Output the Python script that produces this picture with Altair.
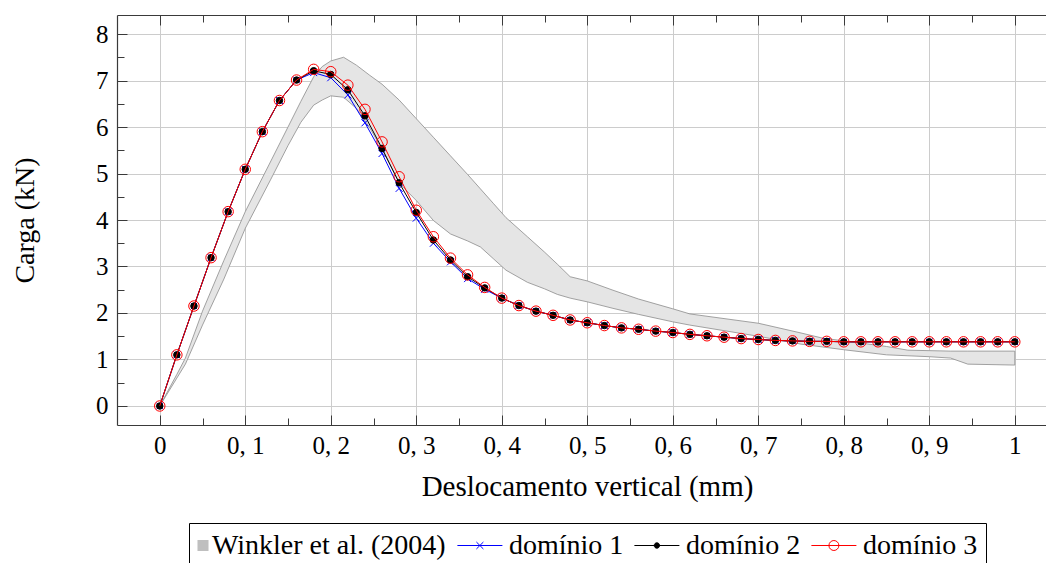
import altair as alt
import pandas as pd

# ---------------- data ----------------
desloc = [0.00, 0.02, 0.04, 0.06, 0.08, 0.10, 0.12, 0.14, 0.16, 0.18,
          0.20, 0.22, 0.24, 0.26, 0.28, 0.30, 0.32, 0.34, 0.36, 0.38,
          0.40, 0.42, 0.44, 0.46, 0.48, 0.50, 0.52, 0.54, 0.56, 0.58,
          0.60, 0.62, 0.64, 0.66, 0.68, 0.70, 0.72, 0.74, 0.76, 0.78,
          0.80, 0.82, 0.84, 0.86, 0.88, 0.90, 0.92, 0.94, 0.96, 0.98, 1.00]

dominio1 = [0.00, 1.10, 2.15, 3.19, 4.18, 5.09, 5.90, 6.57, 7.01, 7.17,
            7.06, 6.69, 6.09, 5.43, 4.68, 4.04, 3.50, 3.10, 2.74, 2.51,
            2.32, 2.16, 2.04, 1.95, 1.85, 1.79, 1.73, 1.68, 1.65, 1.61,
            1.58, 1.54, 1.51, 1.48, 1.45, 1.43, 1.41, 1.40, 1.39, 1.39,
            1.38, 1.38, 1.38, 1.38, 1.38, 1.38, 1.38, 1.38, 1.38, 1.38, 1.38]

dominio2 = [0.00, 1.10, 2.15, 3.19, 4.18, 5.09, 5.90, 6.57, 7.01, 7.21,
            7.13, 6.80, 6.24, 5.54, 4.80, 4.16, 3.57, 3.14, 2.78, 2.54,
            2.32, 2.16, 2.04, 1.95, 1.85, 1.79, 1.73, 1.68, 1.65, 1.61,
            1.58, 1.54, 1.51, 1.48, 1.45, 1.43, 1.41, 1.40, 1.39, 1.39,
            1.38, 1.38, 1.38, 1.38, 1.38, 1.38, 1.38, 1.38, 1.38, 1.38, 1.38]

dominio3 = [0.00, 1.10, 2.15, 3.19, 4.18, 5.09, 5.90, 6.57, 7.01, 7.24,
            7.19, 6.90, 6.38, 5.68, 4.93, 4.21, 3.64, 3.18, 2.82, 2.55,
            2.32, 2.16, 2.04, 1.95, 1.85, 1.79, 1.73, 1.68, 1.65, 1.61,
            1.58, 1.54, 1.51, 1.48, 1.45, 1.43, 1.41, 1.40, 1.39, 1.39,
            1.38, 1.38, 1.38, 1.38, 1.38, 1.38, 1.38, 1.38, 1.38, 1.38, 1.38]

# Winkler et al. (2004) experimental envelope
winkler_x = [0.0, 0.02, 0.03, 0.05, 0.075, 0.10, 0.13, 0.15, 0.165, 0.18,
             0.19, 0.20, 0.215, 0.23, 0.245, 0.26, 0.28, 0.30, 0.32, 0.34,
             0.36, 0.375, 0.39, 0.405, 0.43, 0.45, 0.465, 0.48, 0.50, 0.53,
             0.56, 0.60, 0.62, 0.70, 0.75, 0.775, 0.80, 0.85, 0.875, 0.90,
             0.925, 0.945, 1.0]
winkler_sup = [0.0, 0.68, 1.03, 2.04, 3.13, 4.18, 5.27, 6.00, 6.55, 7.08,
               7.30, 7.42, 7.50, 7.33, 7.12, 6.92, 6.58, 6.18, 5.78, 5.38,
               4.98, 4.67, 4.36, 4.05, 3.64, 3.31, 3.05, 2.78, 2.69, 2.49,
               2.30, 2.09, 1.98, 1.78, 1.57, 1.46, 1.40, 1.28, 1.20, 1.19,
               1.18, 1.18, 1.18]
winkler_inf = [0.0, 0.60, 0.90, 1.74, 2.73, 3.82, 4.88, 5.60, 6.10, 6.47,
               6.58, 6.67, 6.64, 6.40, 6.00, 5.52, 4.79, 4.42, 3.99, 3.70,
               3.55, 3.42, 3.17, 2.92, 2.66, 2.52, 2.40, 2.32, 2.24, 2.10,
               1.97, 1.81, 1.74, 1.50, 1.33, 1.27, 1.21, 1.10, 1.08, 1.06,
               1.03, 0.90, 0.88]

x_ticks = [0.0, 0.1, 0.2, 0.3, 0.4, 0.5, 0.6, 0.7, 0.8, 0.9, 1.0]
x_minor = [0.05, 0.15, 0.25, 0.35, 0.45, 0.55, 0.65, 0.75, 0.85, 0.95]
y_ticks = [0, 1, 2, 3, 4, 5, 6, 7, 8]
y_minor = [0.5, 1.5, 2.5, 3.5, 4.5, 5.5, 6.5, 7.5]

series_names = ["Winkler et al. (2004)", "domínio 1", "domínio 2", "domínio 3"]

# ---------------- tables ----------------
band_df = pd.DataFrame({"x": winkler_x, "sup": winkler_sup, "inf": winkler_inf})
dom_df = pd.concat([
    pd.DataFrame({"x": desloc, "carga": dominio1, "serie": series_names[1]}),
    pd.DataFrame({"x": desloc, "carga": dominio2, "serie": series_names[2]}),
    pd.DataFrame({"x": desloc, "carga": dominio3, "serie": series_names[3]}),
], ignore_index=True)
legend_df = pd.DataFrame({"serie": series_names})

# ---------------- layout constants ----------------
W, H = 929, 410
FONT = "Liberation Serif"
FRAME = "#3a3a3a"
GRID = "#cccccc"

xs = alt.Scale(domain=[-0.05, 1.0365], nice=False, zero=False)
ys = alt.Scale(domain=[-0.409, 8.409], nice=False, zero=False)

x_label_expr = ("datum.value < 0.001 ? '0' : (datum.value > 0.999 ? '1' : "
                "'0, ' + format(datum.value * 10, '.0f'))")

ax_x_main = alt.Axis(orient="bottom", offset=0, values=x_ticks, labelExpr=x_label_expr,
                     grid=True, gridColor=GRID, gridWidth=1, ticks=False,
                     domain=True, domainColor=FRAME, domainWidth=1.2,
                     labelPadding=8, labelFont=FONT, labelFontSize=25, labelColor="black",
                     labelFlush=False, labelOverlap=False,
                     title="Deslocamento vertical (mm)", titleFont=FONT, titleFontSize=29,
                     titleFontWeight="normal", titleColor="black", titlePadding=14,
                     titleX=470, titleAlign="center", titleAnchor="middle")
ax_y_main = alt.Axis(orient="left", offset=0, values=y_ticks, format="d",
                     grid=True, gridColor=GRID, gridWidth=1, ticks=False,
                     domain=True, domainColor=FRAME, domainWidth=1.2,
                     labelPadding=9, labelFont=FONT, labelFontSize=25, labelColor="black",
                     labelFlush=False, labelOverlap=False,
                     title="Carga (kN)", titleFont=FONT, titleFontSize=28,
                     titleFontWeight="normal", titleColor="black", titlePadding=56)


def tick_axis(orient, values, size, domain=False):
    return alt.Axis(orient=orient, offset=-(H if orient in ("top", "bottom") else W),
                    values=values, labels=False, grid=False, title=None,
                    ticks=True, tickSize=size, tickColor=FRAME, tickWidth=1,
                    domain=domain, domainColor=FRAME, domainWidth=1.2)


# ---------------- layers ----------------
band = alt.Chart(band_df).mark_area(
    fill="#e5e5e5", stroke="#8c8c8c", strokeWidth=0.8, clip=True
).encode(
    x=alt.X("x:Q", scale=xs, axis=ax_x_main),
    y=alt.Y("sup:Q", scale=ys, axis=ax_y_main),
    y2="inf:Q",
)


def axis_layer(xaxis=None, yaxis=None):
    return alt.Chart(band_df).mark_point(opacity=0, size=1).encode(
        x=alt.X("x:Q", scale=xs, axis=xaxis),
        y=alt.Y("sup:Q", scale=ys, axis=yaxis),
    )


axis_layers = [
    axis_layer(xaxis=tick_axis("top", x_ticks, 10)),           # bottom edge, inward
    axis_layer(xaxis=tick_axis("top", x_minor, 7)),
    axis_layer(xaxis=tick_axis("bottom", x_ticks, 10, True)),  # top edge (frame line)
    axis_layer(xaxis=tick_axis("bottom", x_minor, 7)),
    axis_layer(yaxis=tick_axis("right", y_ticks, 10)),         # left edge, inward
    axis_layer(yaxis=tick_axis("right", y_minor, 7)),
]

X_PATH = "M-1,-1L1,1M-1,1L1,-1"
styles = {
    series_names[1]: dict(color="blue", shape=X_PATH, size=49, fill="transparent", stroke="blue"),
    series_names[2]: dict(color="black", shape="circle", size=42, fill="black", stroke="black"),
    series_names[3]: dict(color="red", shape="circle", size=110, fill="transparent", stroke="red"),
}

series_layers = []
for name in series_names[1:]:
    st = styles[name]
    sub = alt.Chart(dom_df).transform_filter(alt.datum.serie == name)
    line = sub.mark_line(color=st["color"], strokeWidth=1, clip=True).encode(
        x=alt.X("x:Q", scale=xs, axis=None),
        y=alt.Y("carga:Q", scale=ys, axis=None),
    )
    pts = sub.mark_point(shape=st["shape"], size=st["size"], fill=st["fill"],
                         stroke=st["stroke"], strokeWidth=1, opacity=1, filled=False,
                         clip=True).encode(
        x=alt.X("x:Q", scale=xs, axis=None),
        y=alt.Y("carga:Q", scale=ys, axis=None),
    )
    series_layers += [line, pts]

# legend (symbols only, no marks drawn); line samples drawn to the left of the slot
LEG_SHAPES = [
    "M-0.92,-0.92H0.92V0.92H-0.92Z",
    "M-7.1,0H0.4M-3.93,-0.58L-2.77,0.58M-3.93,0.58L-2.77,-0.58",
    "M-7.1,0H0.4M-2.9,0A0.45,0.45,0,1,1,-3.8,0A0.45,0.45,0,1,1,-2.9,0Z",
    "M-7.1,0H0.4M-2.52,0A0.83,0.83,0,1,1,-4.18,0A0.83,0.83,0,1,1,-2.52,0Z",
]
leg = alt.Legend(title=None, orient="none", legendX=72, legendY=508,
                 direction="horizontal", columns=4)
legend_layer = alt.Chart(legend_df).transform_filter("false").mark_point(
    opacity=1, strokeWidth=1
).encode(
    fill=alt.Fill("serie:N", legend=leg, scale=alt.Scale(
        domain=series_names, range=["#bfbfbf", "transparent", "black", "transparent"])),
    stroke=alt.Stroke("serie:N", legend=leg, scale=alt.Scale(
        domain=series_names, range=["transparent", "blue", "black", "red"])),
    shape=alt.Shape("serie:N", legend=leg, scale=alt.Scale(
        domain=series_names, range=LEG_SHAPES)),
)

chart = alt.layer(band, *axis_layers, *series_layers, legend_layer).resolve_axis(
    x="independent", y="independent"
).properties(
    width=W, height=H,
    autosize=alt.AutoSizeParams(type="none"),
    padding={"left": 117, "top": 15, "right": 0, "bottom": 138},
).configure_view(
    stroke=None
).configure_legend(
    strokeColor="black", fillColor="white", padding=8.5, cornerRadius=0,
    labelFont=FONT, labelFontSize=28, labelColor="black",
    labelOffset={"expr": "-5"}, symbolOffset=-8.5,
    columnPadding=8, symbolStrokeWidth=1, symbolSize=144, gridAlign="each",
    labelLimit=400,
)

chart.save("out.html", embed_options={"renderer": "svg", "actions": False})
